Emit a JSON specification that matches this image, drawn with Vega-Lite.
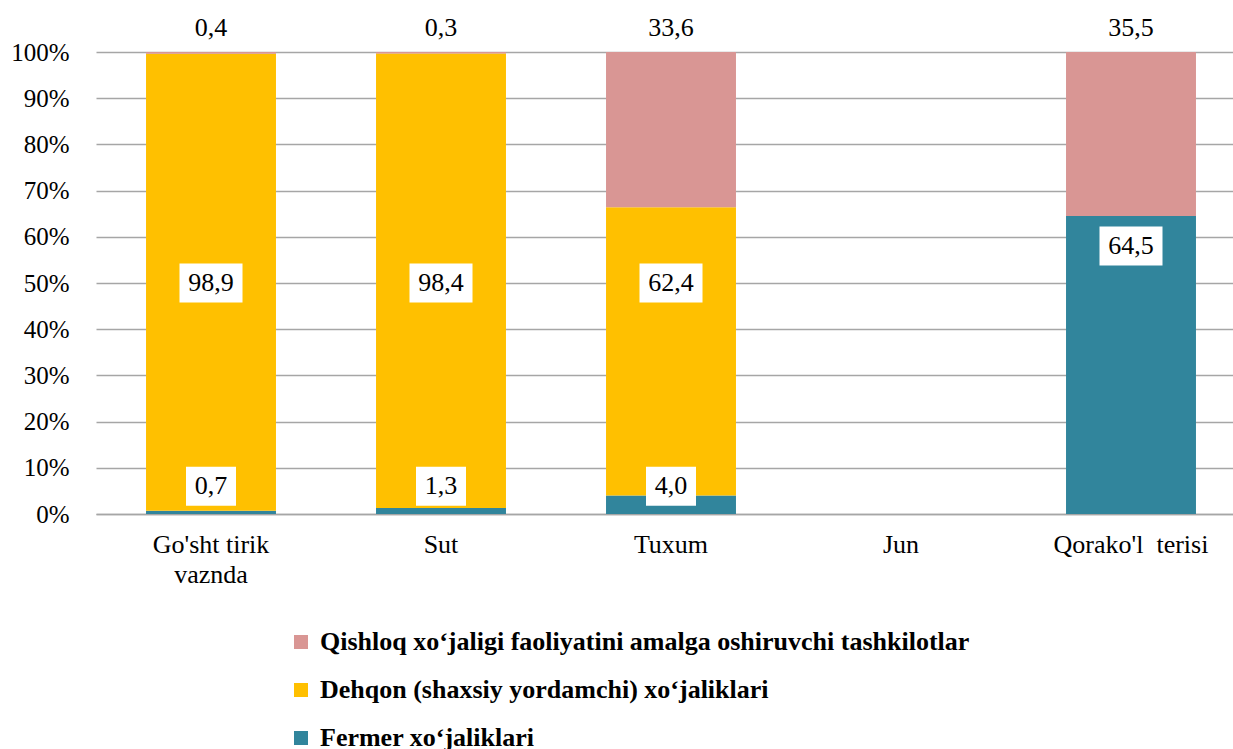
{
  "$schema": "https://vega.github.io/schema/vega-lite/v6.json",
  "width": 1137,
  "height": 462,
  "autosize": {"type": "none"},
  "padding": {"left": 96, "top": 52, "right": 0, "bottom": 235},
  "background": "white",
  "config": {
    "view": {"stroke": null},
    "font": "Times New Roman, Liberation Serif, serif",
    "text": {"font": "Times New Roman, Liberation Serif, serif", "fontSize": 26, "color": "#000000"}
  },
  "data": {
    "values": [
      {"cat": "Go'sht tirik vaznda", "series": "Fermer xoʻjaliklari", "k": 1, "value": 0.7, "label": "0,7"},
      {"cat": "Go'sht tirik vaznda", "series": "Dehqon (shaxsiy yordamchi) xoʻjaliklari", "k": 2, "value": 98.9, "label": "98,9"},
      {"cat": "Go'sht tirik vaznda", "series": "Qishloq xoʻjaligi faoliyatini amalga oshiruvchi tashkilotlar", "k": 3, "value": 0.4, "label": "0,4"},
      {"cat": "Sut", "series": "Fermer xoʻjaliklari", "k": 1, "value": 1.3, "label": "1,3"},
      {"cat": "Sut", "series": "Dehqon (shaxsiy yordamchi) xoʻjaliklari", "k": 2, "value": 98.4, "label": "98,4"},
      {"cat": "Sut", "series": "Qishloq xoʻjaligi faoliyatini amalga oshiruvchi tashkilotlar", "k": 3, "value": 0.3, "label": "0,3"},
      {"cat": "Tuxum", "series": "Fermer xoʻjaliklari", "k": 1, "value": 4.0, "label": "4,0"},
      {"cat": "Tuxum", "series": "Dehqon (shaxsiy yordamchi) xoʻjaliklari", "k": 2, "value": 62.4, "label": "62,4"},
      {"cat": "Tuxum", "series": "Qishloq xoʻjaligi faoliyatini amalga oshiruvchi tashkilotlar", "k": 3, "value": 33.6, "label": "33,6"},
      {"cat": "Qorako'l \u00a0terisi", "series": "Fermer xoʻjaliklari", "k": 1, "value": 64.5, "label": "64,5"},
      {"cat": "Qorako'l \u00a0terisi", "series": "Qishloq xoʻjaligi faoliyatini amalga oshiruvchi tashkilotlar", "k": 3, "value": 35.5, "label": "35,5"}
    ]
  },
  "encoding": {
    "x": {
      "field": "cat",
      "type": "nominal",
      "sort": null,
      "scale": {"domain": ["Go'sht tirik vaznda", "Sut", "Tuxum", "Jun", "Qorako'l \u00a0terisi"], "range": [0, 1150], "paddingInner": 0.435, "paddingOuter": 0.2175},
      "axis": {
        "title": null,
        "labelAngle": 0,
        "labelFont": "Times New Roman, Liberation Serif, serif",
        "labelFontSize": 26,
        "labelColor": "#000000",
        "labelPadding": 17,
        "labelLineHeight": 30,
        "labelBaseline": "top",
        "labelExpr": "datum.label == \"Go'sht tirik vaznda\" ? [\"Go'sht tirik\", \"vaznda\"] : datum.label",
        "ticks": false,
        "domain": true,
        "domainColor": "#a6a6a6",
        "domainWidth": 1.5,
        "grid": false
      }
    }
  },
  "layer": [
    {
      "mark": {"type": "bar"},
      "encoding": {
        "y": {
          "field": "value",
          "type": "quantitative",
          "stack": "zero",
          "scale": {"domain": [0, 100], "nice": false},
          "axis": {
            "title": null,
            "values": [0, 10, 20, 30, 40, 50, 60, 70, 80, 90, 100],
            "labelExpr": "datum.value + '%'",
            "labelFont": "Times New Roman, Liberation Serif, serif",
            "labelFontSize": 25,
            "labelColor": "#000000",
            "labelPadding": 27,
            "ticks": false,
            "domain": false,
            "grid": true,
            "gridColor": "#a6a6a6",
            "gridWidth": 1.5
          }
        },
        "color": {
          "field": "series",
          "type": "nominal",
          "scale": {
            "domain": ["Qishloq xoʻjaligi faoliyatini amalga oshiruvchi tashkilotlar", "Dehqon (shaxsiy yordamchi) xoʻjaliklari", "Fermer xoʻjaliklari"],
            "range": ["#D99694", "#FFC000", "#31859C"]
          },
          "legend": {
            "title": null,
            "orient": "none",
            "legendX": 192,
            "legendY": 577,
            "direction": "vertical",
            "symbolType": "square",
            "symbolSize": 196,
            "symbolStrokeWidth": 0,
            "labelFont": "Times New Roman, Liberation Serif, serif",
            "labelFontWeight": "bold",
            "labelFontSize": 26,
            "labelColor": "#000000",
            "labelLimit": 1000,
            "labelOffset": 6,
            "rowPadding": 22
          }
        },
        "order": {"field": "k", "type": "quantitative", "sort": "ascending"}
      }
    },
    {
      "transform": [{"filter": "datum.k == 2"}],
      "mark": {"type": "point", "filled": true, "color": "white", "opacity": 1, "size": 3969, "shape": "M-1,-0.62L1,-0.62L1,0.62L-1,0.62Z"},
      "encoding": {"y": {"datum": 50, "type": "quantitative"}}
    },
    {
      "transform": [{"filter": "datum.k == 2"}],
      "mark": {"type": "text", "baseline": "middle", "align": "center"},
      "encoding": {"y": {"datum": 50, "type": "quantitative"}, "text": {"field": "label"}}
    },
    {
      "transform": [{"filter": "datum.k == 1 && datum.value < 10"}],
      "mark": {"type": "point", "filled": true, "color": "white", "opacity": 1, "size": 2500, "shape": "M-1,-0.78L1,-0.78L1,0.78L-1,0.78Z"},
      "encoding": {"y": {"datum": 6, "type": "quantitative"}}
    },
    {
      "transform": [{"filter": "datum.k == 1 && datum.value < 10"}],
      "mark": {"type": "text", "baseline": "middle", "align": "center"},
      "encoding": {"y": {"datum": 6, "type": "quantitative"}, "text": {"field": "label"}}
    },
    {
      "transform": [{"filter": "datum.k == 1 && datum.value >= 10"}],
      "mark": {"type": "point", "filled": true, "color": "white", "opacity": 1, "size": 3969, "shape": "M-1,-0.62L1,-0.62L1,0.62L-1,0.62Z", "yOffset": 30},
      "encoding": {"y": {"field": "value", "type": "quantitative"}}
    },
    {
      "transform": [{"filter": "datum.k == 1 && datum.value >= 10"}],
      "mark": {"type": "text", "baseline": "middle", "align": "center", "dy": 30},
      "encoding": {"y": {"field": "value", "type": "quantitative"}, "text": {"field": "label"}}
    },
    {
      "transform": [{"filter": "datum.k == 3"}],
      "mark": {"type": "text", "baseline": "middle", "align": "center", "dy": -24},
      "encoding": {"y": {"datum": 100, "type": "quantitative"}, "text": {"field": "label"}}
    }
  ]
}
